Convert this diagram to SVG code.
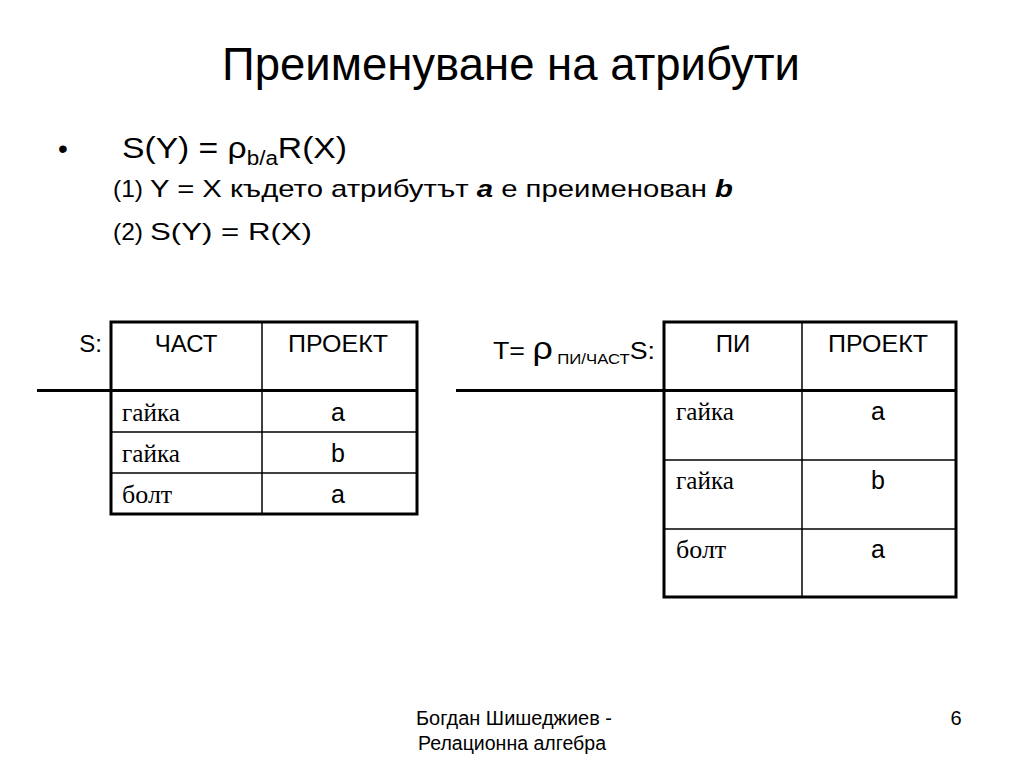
<svg xmlns="http://www.w3.org/2000/svg" width="1024" height="768" viewBox="0 0 1024 768">
<style>
.s{font-family:"Liberation Sans",Arial,sans-serif;fill:#000}
.r{font-family:"Liberation Serif","Times New Roman",serif;fill:#000}
.c{text-anchor:middle}
.thick{stroke:#000;stroke-width:3;fill:none}
.thin{stroke:#000;stroke-width:1.5;fill:none}
</style>
<rect width="1024" height="768" fill="#fff"/>
<g id="title">
<text class="s c" x="511" y="80" font-size="46" textLength="578" lengthAdjust="spacingAndGlyphs">Преименуване на атрибути</text>
</g>
<g id="body">
<text class="s" x="58" y="158" font-size="28">•</text>
<text class="s" x="122" y="158" font-size="30" textLength="225" lengthAdjust="spacingAndGlyphs">S(Y) = ρ<tspan font-size="20" dy="7">b/a</tspan><tspan dy="-7">R(X)</tspan></text>
<text class="s" x="113" y="197" font-size="24" textLength="30" lengthAdjust="spacingAndGlyphs">(1)</text>
<text class="s" x="150" y="197" font-size="24" textLength="583" lengthAdjust="spacingAndGlyphs">Y = X където атрибутът <tspan font-weight="bold" font-style="italic">a</tspan> е преименован <tspan font-weight="bold" font-style="italic">b</tspan></text>
<text class="s" x="113" y="240" font-size="24" textLength="30" lengthAdjust="spacingAndGlyphs">(2)</text>
<text class="s" x="150" y="240" font-size="24" textLength="162" lengthAdjust="spacingAndGlyphs">S(Y) = R(X)</text>
</g>
<g id="tableS">
<rect class="thick" x="111" y="322" width="306" height="192"/>
<line class="thin" x1="262" y1="322" x2="262" y2="514"/>
<line class="thin" x1="111" y1="432" x2="417" y2="432"/>
<line class="thin" x1="111" y1="473" x2="417" y2="473"/>
<line class="thick" x1="37" y1="390.5" x2="417" y2="390.5"/>
<text class="s" x="102" y="352" font-size="24" text-anchor="end">S:</text>
<text class="s c" x="186" y="352" font-size="24">ЧАСТ</text>
<text class="s c" x="338" y="352" font-size="24" textLength="100" lengthAdjust="spacingAndGlyphs">ПРОЕКТ</text>
<text class="r" x="122" y="421" font-size="26" textLength="58" lengthAdjust="spacingAndGlyphs">гайка</text>
<text class="s c" x="338" y="421" font-size="25">a</text>
<text class="r" x="122" y="462" font-size="26" textLength="58" lengthAdjust="spacingAndGlyphs">гайка</text>
<text class="s c" x="338" y="462" font-size="25">b</text>
<text class="r" x="122" y="503" font-size="26">болт</text>
<text class="s c" x="338" y="503" font-size="25">a</text>
</g>
<g id="tableT">
<rect class="thick" x="664" y="322" width="292" height="275"/>
<line class="thin" x1="802" y1="322" x2="802" y2="597"/>
<line class="thin" x1="664" y1="460" x2="956" y2="460"/>
<line class="thin" x1="664" y1="529" x2="956" y2="529"/>
<line class="thick" x1="456" y1="390.5" x2="956" y2="390.5"/>
<text class="s" x="493" y="359" font-size="24" textLength="162" lengthAdjust="spacingAndGlyphs">T= <tspan font-size="32">ρ</tspan><tspan font-size="15" dy="5"> ПИ/ЧАСТ</tspan><tspan dy="-5">S:</tspan></text>
<text class="s c" x="733" y="352" font-size="24">ПИ</text>
<text class="s c" x="878" y="352" font-size="24" textLength="100" lengthAdjust="spacingAndGlyphs">ПРОЕКТ</text>
<text class="r" x="676" y="420" font-size="26" textLength="58" lengthAdjust="spacingAndGlyphs">гайка</text>
<text class="s c" x="878" y="420" font-size="25">a</text>
<text class="r" x="676" y="489" font-size="26" textLength="58" lengthAdjust="spacingAndGlyphs">гайка</text>
<text class="s c" x="878" y="489" font-size="25">b</text>
<text class="r" x="676" y="558" font-size="26">болт</text>
<text class="s c" x="878" y="558" font-size="25">a</text>
</g>
<g id="footer">
<text class="s c" x="514" y="725" font-size="20" textLength="196" lengthAdjust="spacingAndGlyphs">Богдан Шишеджиев -</text>
<text class="s c" x="512" y="750" font-size="20" textLength="188" lengthAdjust="spacingAndGlyphs">Релационна алгебра</text>
<text class="s c" x="956" y="725" font-size="20">6</text>
</g>
</svg>
